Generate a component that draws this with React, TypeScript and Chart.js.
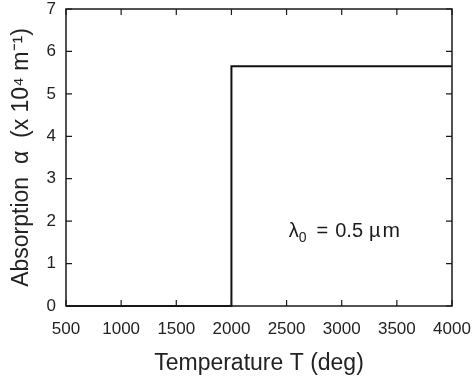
import React, { useEffect, useRef } from "react";
import { Chart, registerables } from "chart.js";

Chart.register(...registerables);

const temperatures = [500, 2000, 2000, 4000];
const absorption = [0, 0, 5.65, 5.65];
const xTicks = [500, 1000, 1500, 2000, 2500, 3000, 3500, 4000];
const yTicks = [0, 1, 2, 3, 4, 5, 6, 7];
const annotationPos = { x: 2520, y: 1.62 };

const FONT = "'Liberation Sans', Arial, sans-serif";

const framePlugin = {
  id: "frame",
  afterDatasetsDraw(chart: any) {
    const { ctx, chartArea: a, scales } = chart;
    const xs = scales.x;
    const ys = scales.y;
    ctx.save();
    ctx.strokeStyle = "#1a1a1a";
    ctx.lineWidth = 1.5;
    ctx.strokeRect(a.left, a.top, a.right - a.left, a.bottom - a.top);
    const t = 6;
    ctx.lineWidth = 1.2;
    ctx.beginPath();
    for (const v of xTicks) {
      const px = xs.getPixelForValue(v);
      ctx.moveTo(px, a.bottom);
      ctx.lineTo(px, a.bottom - t);
      ctx.moveTo(px, a.top);
      ctx.lineTo(px, a.top + t);
    }
    for (const v of yTicks) {
      const py = ys.getPixelForValue(v);
      ctx.moveTo(a.left, py);
      ctx.lineTo(a.left + t, py);
      ctx.moveTo(a.right, py);
      ctx.lineTo(a.right - t, py);
    }
    ctx.stroke();

    // annotation: λ₀ = 0.5 µm
    ctx.fillStyle = "#1a1a1a";
    ctx.textBaseline = "alphabetic";
    ctx.textAlign = "left";
    let x = xs.getPixelForValue(annotationPos.x);
    const y = ys.getPixelForValue(annotationPos.y);
    ctx.font = `20px ${FONT}`;
    ctx.fillText("λ", x, y);
    x += ctx.measureText("λ").width;
    ctx.font = `14px ${FONT}`;
    ctx.fillText("0", x, y + 5);
    x += ctx.measureText("0").width + 10;
    ctx.font = `20px ${FONT}`;
    ctx.fillText("=", x, y);
    x += ctx.measureText("=").width + 7;
    ctx.fillText("0.5", x, y);
    x += ctx.measureText("0.5").width + 6;
    ctx.fillText("µ", x, y);
    x += ctx.measureText("µ").width + 2;
    ctx.font = `21px ${FONT}`;
    ctx.fillText("m", x, y);
    ctx.restore();
  },
};

export default function App() {
  const ref = useRef<HTMLCanvasElement>(null);
  useEffect(() => {
    document.body.style.margin = "0";
    const chart = new Chart(ref.current!, {
      type: "line",
      data: {
        datasets: [
          {
            data: temperatures.map((t, i) => ({ x: t, y: absorption[i] })),
            borderColor: "#111",
            borderWidth: 2,
            pointRadius: 0,
            fill: false,
            tension: 0,
            clip: false as any,
          },
        ],
      },
      options: {
        animation: false,
        responsive: false,
        layout: { padding: { top: 9, right: 22, left: 0, bottom: 0 } },
        plugins: { legend: { display: false }, tooltip: { enabled: false } },
        scales: {
          x: {
            type: "linear",
            min: 500,
            max: 4000,
            afterBuildTicks: (s: any) => {
              s.ticks = xTicks.map((v) => ({ value: v }));
            },
            grid: { display: false },
            border: { display: false },
            ticks: {
              color: "#222",
              font: { family: FONT, size: 17 },
              padding: 5,
              maxRotation: 0,
              autoSkip: false,
              callback: (v: any) => String(v),
            },
            title: {
              display: true,
              text: "Temperature T (deg)",
              color: "#222",
              font: { family: FONT, size: 23 },
              padding: { top: 4, bottom: 1 },
            },
            afterFit: (s: any) => {
              s.height = 72;
              s.paddingLeft = 0;
              s.paddingRight = 0;
            },
          },
          y: {
            type: "linear",
            min: 0,
            max: 7,
            afterBuildTicks: (s: any) => {
              s.ticks = yTicks.map((v) => ({ value: v }));
            },
            grid: { display: false },
            border: { display: false },
            ticks: {
              color: "#222",
              font: { family: FONT, size: 17 },
              padding: 2,
              callback: (v: any) => String(v),
            },
            title: {
              display: true,
              text: "Absorption  α  (x 10⁴ m⁻¹)",
              color: "#222",
              font: { family: FONT, size: 23 },
              padding: { top: 8, bottom: 0 },
            },
            afterFit: (s: any) => {
              s.width = 66;
              s.paddingTop = 0;
              s.paddingBottom = 0;
            },
          },
        },
      },
      plugins: [framePlugin],
    });
    return () => chart.destroy();
  }, []);
  return <canvas ref={ref} width={474} height={378} style={{ display: "block" }} />;
}
